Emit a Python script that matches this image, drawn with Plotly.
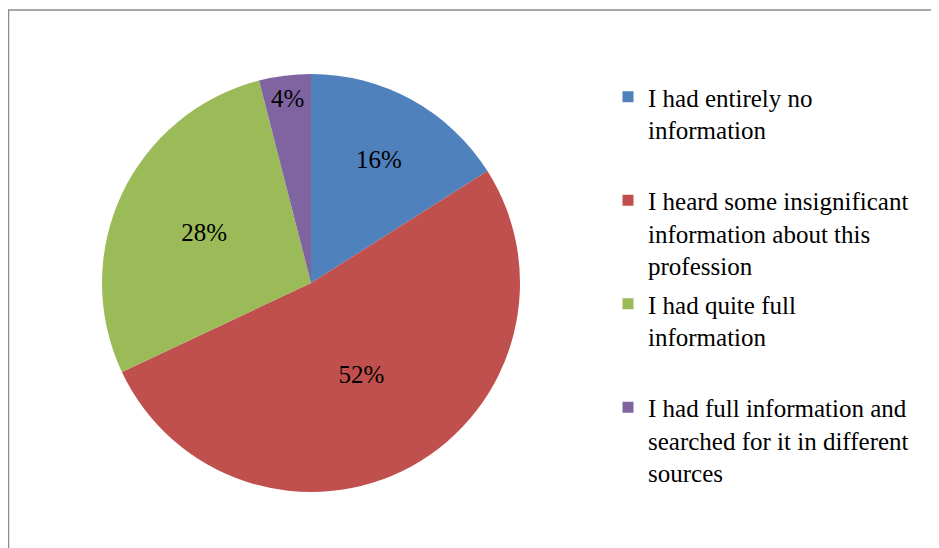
"""Pie chart: how much information respondents had about the profession."""
import plotly.graph_objects as go

labels = [
    "I had entirely no<br>information<br> ",
    "I heard some insignificant<br>information about this<br>profession",
    "I had quite full<br>information<br> ",
    "I had full information and<br>searched for it in different<br>sources",
]
values = [16, 52, 28, 4]
colors = ["#4F81BD", "#C0504D", "#9BBB59", "#8064A2"]

# page body keeps an 8px margin, so the figure is sized to the visible area
W, H = 931, 540
FONT = "Liberation Serif"

fig = go.Figure()
fig.add_trace(go.Pie(
    labels=labels, values=values, sort=False, direction="clockwise", rotation=0,
    marker=dict(colors=colors, line=dict(width=0)),
    textinfo="percent", textposition="inside", insidetextorientation="horizontal",
    textfont=dict(family=FONT, size=25, color="black"),
    showlegend=False,
    domain=dict(x=[94 / W, 512 / W], y=[56 / H, 474 / H]),
))

# legend entries, one group each so the gap between them can be set
for i, (lab, col) in enumerate(zip(labels, colors)):
    fig.add_trace(go.Scatter(
        x=[None], y=[None], mode="markers", name=lab, legendgroup=f"g{i}",
        marker=dict(symbol="square", size=11, color=col),
    ))

fig.update_layout(
    width=W, height=H, margin=dict(l=0, r=0, t=0, b=0),
    paper_bgcolor="white", plot_bgcolor="white",
    xaxis=dict(visible=False), yaxis=dict(visible=False),
    font=dict(family=FONT, size=25, color="black"),
    legend=dict(
        x=600 / W, y=1 - 66 / H, xanchor="left", yanchor="top",
        valign="top", traceorder="grouped", tracegroupgap=3,
        font=dict(family=FONT, size=25, color="black"),
        bgcolor="rgba(0,0,0,0)",
    ),
    shapes=[dict(
        type="path", xref="paper", yref="paper",
        path=f"M {0.5 / W},-0.05 L {0.5 / W},{1 - 2 / H} L 1.05,{1 - 2 / H}",
        line=dict(color="#8C8C8C", width=1.5),
    )],
)

fig.write_html("out.html")
